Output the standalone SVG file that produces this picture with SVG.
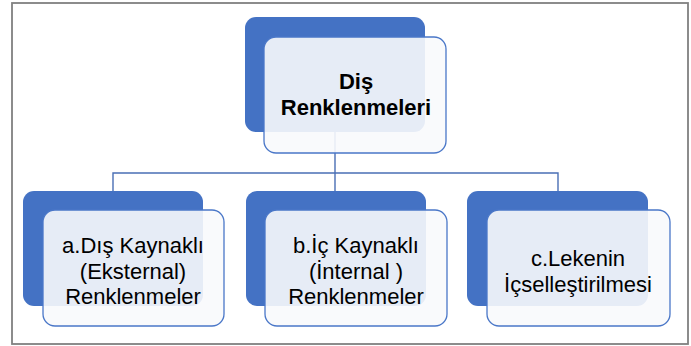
<svg xmlns="http://www.w3.org/2000/svg" width="691" height="346" viewBox="0 0 691 346">
<style>
.back{fill:#4472C4}
.front{fill:#F8F9FC;fill-opacity:0.9;stroke:#4A77C8;stroke-width:1.3}
.conn{fill:none;stroke:#4A6FB5;stroke-width:1.4}
.t{font-family:"Liberation Sans",Arial,sans-serif;font-size:22px;fill:#000;text-anchor:middle}
.tb{font-weight:bold}
</style>
<rect x="0" y="0" width="691" height="346" fill="#fff"/>
<rect x="12" y="3" width="676" height="341" fill="none" stroke="#808080" stroke-width="1.8"/>
<g id="connectors">
<path class="conn" d="M335 132 V173 M113 191 V173 H558 V191 M335 173 V191"/>
</g>
<g id="root">
<rect class="back" x="245" y="17" width="180" height="115" rx="11"/>
<rect class="front" x="264" y="37" width="182" height="116" rx="12"/>
<text class="t tb" x="356" y="89">Diş</text>
<text class="t tb" x="356" y="115">Renklenmeleri</text>
</g>
<g id="node-a">
<rect class="back" x="23" y="191" width="180" height="115" rx="11"/>
<rect class="front" x="43" y="210" width="181" height="116" rx="12"/>
<text class="t" x="133" y="253">a.Dış Kaynaklı</text>
<text class="t" x="133" y="278.5">(Eksternal)</text>
<text class="t" x="133" y="304">Renklenmeler</text>
</g>
<g id="node-b">
<rect class="back" x="246" y="191" width="180" height="115" rx="11"/>
<rect class="front" x="265" y="210" width="182" height="116" rx="12"/>
<text class="t" x="356" y="253">b.İç Kaynaklı</text>
<text class="t" x="356" y="278.5">(İnternal )</text>
<text class="t" x="356" y="304">Renklenmeler</text>
</g>
<g id="node-c">
<rect class="back" x="467" y="191" width="181" height="115" rx="11"/>
<rect class="front" x="487" y="210" width="183" height="116" rx="12"/>
<text class="t" x="578" y="266">c.Lekenin</text>
<text class="t" x="578" y="291.5">İçselleştirilmesi</text>
</g>
</svg>
